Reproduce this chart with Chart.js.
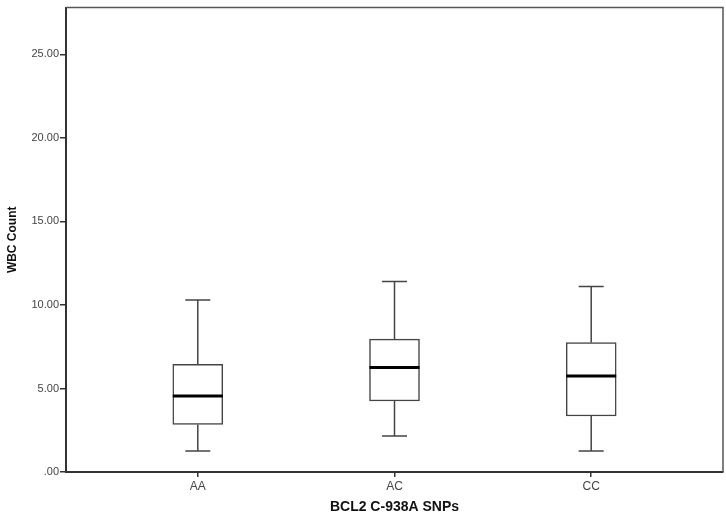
<!DOCTYPE html>
<html>
<head>
<meta charset="utf-8">
<script src="https://cdn.jsdelivr.net/npm/chart.js@4.4.1/dist/chart.umd.min.js"></script>
<style>
  html, body { margin: 0; padding: 0; background: #fff; }
  canvas { display: block; }
</style>
</head>
<body>
<canvas id="wbc" width="726" height="519"></canvas>
<script>
// box plot values
const categories = ["AA", "AC", "CC"];
const minVals = [1.25, 2.15, 1.25];
const q1Vals = [2.85, 4.25, 3.35];
const medianVals = [4.55, 6.25, 5.75];
const q3Vals = [6.45, 7.95, 7.75];
const maxVals = [10.3, 11.4, 11.1];
const yTicks = [0, 5, 10, 15, 20, 25];

const font = "Arial, 'Liberation Sans', sans-serif";

// whiskers, caps and medians on top of the floating bars
const boxWhiskers = {
    id: "boxWhiskers",
    afterDatasetsDraw(chart) {
        const { ctx, scales: { x, y } } = chart;
        ctx.save();
        categories.forEach((c, i) => {
            const cx = x.getPixelForValue(i + 1);
            const yMin = y.getPixelForValue(minVals[i]);
            const yMax = y.getPixelForValue(maxVals[i]);
            const yQ1 = y.getPixelForValue(q1Vals[i]);
            const yQ3 = y.getPixelForValue(q3Vals[i]);
            const yMed = y.getPixelForValue(medianVals[i]);

            ctx.strokeStyle = "#444";
            ctx.lineWidth = 1.5;
            ctx.beginPath();
            ctx.moveTo(cx, yQ3);
            ctx.lineTo(cx, yMax);
            ctx.moveTo(cx - 12.5, yMax);
            ctx.lineTo(cx + 12.5, yMax);
            ctx.moveTo(cx, yQ1);
            ctx.lineTo(cx, yMin);
            ctx.moveTo(cx - 12.5, yMin);
            ctx.lineTo(cx + 12.5, yMin);
            ctx.stroke();

            ctx.strokeStyle = "#000";
            ctx.lineWidth = 3;
            ctx.beginPath();
            ctx.moveTo(cx - 25, yMed);
            ctx.lineTo(cx + 25, yMed);
            ctx.stroke();
        });
        ctx.restore();
    },
    afterDraw(chart) {
        // top and right edges of the frame
        const { ctx, chartArea } = chart;
        ctx.save();
        ctx.strokeStyle = "#555";
        ctx.lineWidth = 1.5;
        ctx.beginPath();
        ctx.moveTo(chartArea.left, chartArea.top);
        ctx.lineTo(chartArea.right, chartArea.top);
        ctx.lineTo(chartArea.right, chartArea.bottom);
        ctx.stroke();
        ctx.restore();
    }
};

let myChart = new Chart(document.getElementById("wbc"), {
    type: "bar",
    plugins: [boxWhiskers],
    data: {
        datasets: [
            {
                data: categories.map((c, i) => ({ x: i + 1, y: [q1Vals[i], q3Vals[i]] })),
                backgroundColor: "#ffffff",
                borderColor: "#444",
                borderWidth: 1.5,
                borderSkipped: false,
                barThickness: 50,
            },
        ],
    },
    options: {
        responsive: false,
        animation: false,
        layout: { padding: { top: 7, right: 3, left: 0, bottom: 0 } },
        plugins: {
            legend: { display: false },
            tooltip: { enabled: false },
        },
        scales: {
            x: {
                type: "linear",
                min: 0.33,
                max: 3.67,
                offset: false,
                afterBuildTicks: (s) => { s.ticks = categories.map((c, i) => ({ value: i + 1 })); },
                afterFit: (s) => { s.height = 47; },
                grid: { offset: false, drawOnChartArea: false, drawTicks: true, tickLength: 5, color: "#333", lineWidth: 1.5 },
                border: { color: "#333", width: 2 },
                ticks: {
                    color: "#444",
                    padding: 2,
                    font: { family: font, size: 12 },
                    callback: (v) => categories[v - 1],
                },
                title: {
                    display: true,
                    text: "BCL2 C-938A SNPs",
                    color: "#111",
                    font: { family: font, size: 14, weight: "bold" },
                    padding: { top: 3, bottom: 3 },
                },
            },
            y: {
                min: 0,
                max: 27.8,
                afterBuildTicks: (s) => { s.ticks = yTicks.map((v) => ({ value: v })); },
                afterFit: (s) => { s.width = 66; },
                grid: { drawOnChartArea: false, drawTicks: true, tickLength: 6, color: "#333", lineWidth: 1.5 },
                border: { color: "#333", width: 2 },
                ticks: {
                    color: "#444",
                    padding: 1,
                    font: { family: font, size: 11 },
                    callback: (v) => (v === 0 ? ".00" : v.toFixed(2)),
                },
                title: {
                    display: true,
                    text: "WBC Count",
                    color: "#111",
                    font: { family: font, size: 12, weight: "bold" },
                    padding: { top: 5, bottom: 4 },
                },
            },
        },
    },
});
</script>
</body>
</html>
